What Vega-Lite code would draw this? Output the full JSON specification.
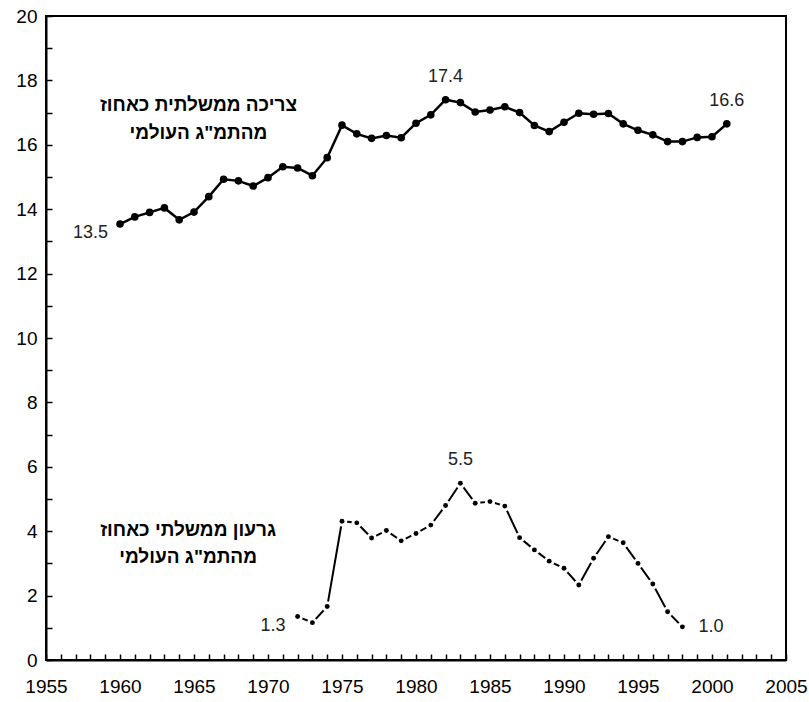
{
  "$schema": "https://vega.github.io/schema/vega-lite/v6.json",
  "width": 740,
  "height": 644,
  "autosize": {"type": "none"},
  "padding": {"left": 46, "top": 16, "right": 23, "bottom": 42},
  "background": "white",
  "config": {
    "font": "Liberation Sans",
    "view": {"stroke": "black", "strokeWidth": 2},
    "axis": {"grid": false, "domainColor": "black", "domainWidth": 2, "tickColor": "black", "tickWidth": 1.5, "labelColor": "black", "labelFont": "Liberation Sans", "labelFontSize": 19, "titleFontSize": 0}
  },
  "datasets": {
    "spending": [
      {"year": 1960, "value": 13.54}, {"year": 1961, "value": 13.76}, {"year": 1962, "value": 13.9},
      {"year": 1963, "value": 14.04}, {"year": 1964, "value": 13.67}, {"year": 1965, "value": 13.91},
      {"year": 1966, "value": 14.39}, {"year": 1967, "value": 14.93}, {"year": 1968, "value": 14.88},
      {"year": 1969, "value": 14.72}, {"year": 1970, "value": 14.98}, {"year": 1971, "value": 15.32},
      {"year": 1972, "value": 15.28}, {"year": 1973, "value": 15.04}, {"year": 1974, "value": 15.6},
      {"year": 1975, "value": 16.61}, {"year": 1976, "value": 16.34}, {"year": 1977, "value": 16.2},
      {"year": 1978, "value": 16.29}, {"year": 1979, "value": 16.22}, {"year": 1980, "value": 16.67},
      {"year": 1981, "value": 16.93}, {"year": 1982, "value": 17.4}, {"year": 1983, "value": 17.31},
      {"year": 1984, "value": 17.02}, {"year": 1985, "value": 17.08}, {"year": 1986, "value": 17.18},
      {"year": 1987, "value": 17.0}, {"year": 1988, "value": 16.6}, {"year": 1989, "value": 16.41},
      {"year": 1990, "value": 16.7}, {"year": 1991, "value": 16.98}, {"year": 1992, "value": 16.95},
      {"year": 1993, "value": 16.97}, {"year": 1994, "value": 16.65}, {"year": 1995, "value": 16.45},
      {"year": 1996, "value": 16.31}, {"year": 1997, "value": 16.1}, {"year": 1998, "value": 16.1},
      {"year": 1999, "value": 16.23}, {"year": 2000, "value": 16.25}, {"year": 2001, "value": 16.65}
    ],
    "deficit": [
      {"year": 1972, "value": 1.35}, {"year": 1973, "value": 1.16}, {"year": 1974, "value": 1.66},
      {"year": 1975, "value": 4.31}, {"year": 1976, "value": 4.26}, {"year": 1977, "value": 3.79},
      {"year": 1978, "value": 4.02}, {"year": 1979, "value": 3.7}, {"year": 1980, "value": 3.93},
      {"year": 1981, "value": 4.19}, {"year": 1982, "value": 4.8}, {"year": 1983, "value": 5.49},
      {"year": 1984, "value": 4.87}, {"year": 1985, "value": 4.92}, {"year": 1986, "value": 4.78},
      {"year": 1987, "value": 3.8}, {"year": 1988, "value": 3.42}, {"year": 1989, "value": 3.07},
      {"year": 1990, "value": 2.85}, {"year": 1991, "value": 2.33}, {"year": 1992, "value": 3.16},
      {"year": 1993, "value": 3.83}, {"year": 1994, "value": 3.64}, {"year": 1995, "value": 3.0},
      {"year": 1996, "value": 2.36}, {"year": 1997, "value": 1.5}, {"year": 1998, "value": 1.03}
    ],
    "labelsAbove": [
      {"year": 1982, "value": 17.4, "text": "17.4"},
      {"year": 2001, "value": 16.65, "text": "16.6"},
      {"year": 1983, "value": 5.49, "text": "5.5"}
    ],
    "labelsLeft": [
      {"year": 1960, "value": 13.54, "text": "13.5"},
      {"year": 1972, "value": 1.35, "text": "1.3"}
    ],
    "labelsRight": [
      {"year": 1998, "value": 1.03, "text": "1.0"}
    ],
    "notes": [
      {"year": 1965.3, "value": 17.24, "text": "צריכה ממשלתית כאחוז"},
      {"year": 1965.3, "value": 16.37, "text": "מהתמ\"ג העולמי"},
      {"year": 1964.6, "value": 4.04, "text": "גרעון ממשלתי כאחוז"},
      {"year": 1964.6, "value": 3.2, "text": "מהתמ\"ג העולמי"}
    ]
  },
  "encoding": {
    "x": {
      "field": "year", "type": "quantitative",
      "scale": {"domain": [1955, 2005], "nice": false, "zero": false},
      "axis": {
        "title": null,
        "values": [1955,1956,1957,1958,1959,1960,1961,1962,1963,1964,1965,1966,1967,1968,1969,1970,1971,1972,1973,1974,1975,1976,1977,1978,1979,1980,1981,1982,1983,1984,1985,1986,1987,1988,1989,1990,1991,1992,1993,1994,1995,1996,1997,1998,1999,2000,2001,2002,2003,2004,2005],
        "labelExpr": "datum.value % 5 === 0 ? format(datum.value, 'd') : ''",
        "labelFontSize": 19,
        "tickSize": -6,
        "labelPadding": 23,
        "labelOverlap": false,
        "labelFlush": false
      }
    },
    "y": {
      "field": "value", "type": "quantitative",
      "scale": {"domain": [0, 20], "nice": false},
      "axis": {
        "title": null,
        "values": [0,1,2,3,4,5,6,7,8,9,10,11,12,13,14,15,16,17,18,19,20],
        "labelExpr": "datum.value % 2 === 0 ? datum.value : ''",
        "labelFontSize": 19,
        "tickSize": -6,
        "labelPadding": 15,
        "labelOverlap": false,
        "labelFlush": false
      }
    }
  },
  "layer": [
    {"data": {"name": "spending"}, "mark": {"type": "line", "color": "black", "strokeWidth": 2.5}},
    {"data": {"name": "spending"}, "mark": {"type": "point", "filled": true, "color": "black", "size": 58, "opacity": 1}},
    {"data": {"name": "deficit"}, "mark": {"type": "line", "color": "black", "strokeWidth": 2}},
    {"data": {"name": "deficit"}, "mark": {"type": "point", "filled": true, "color": "white", "size": 110, "opacity": 1}},
    {"data": {"name": "deficit"}, "mark": {"type": "point", "filled": true, "color": "black", "size": 24, "opacity": 1}},
    {"data": {"name": "labelsAbove"}, "mark": {"type": "text", "fontSize": 18, "color": "#222", "align": "center", "baseline": "middle", "dy": -23}, "encoding": {"text": {"field": "text"}}},
    {"data": {"name": "labelsLeft"}, "mark": {"type": "text", "fontSize": 18, "color": "#222", "align": "right", "baseline": "middle", "dx": -12, "dy": 9}, "encoding": {"text": {"field": "text"}}},
    {"data": {"name": "labelsRight"}, "mark": {"type": "text", "fontSize": 18, "color": "#222", "align": "left", "baseline": "middle", "dx": 16, "dy": 0}, "encoding": {"text": {"field": "text"}}},
    {"data": {"name": "notes"}, "mark": {"type": "text", "fontSize": 19, "fontWeight": "bold", "color": "black", "align": "center", "baseline": "middle"}, "encoding": {"text": {"field": "text"}}}
  ]
}
